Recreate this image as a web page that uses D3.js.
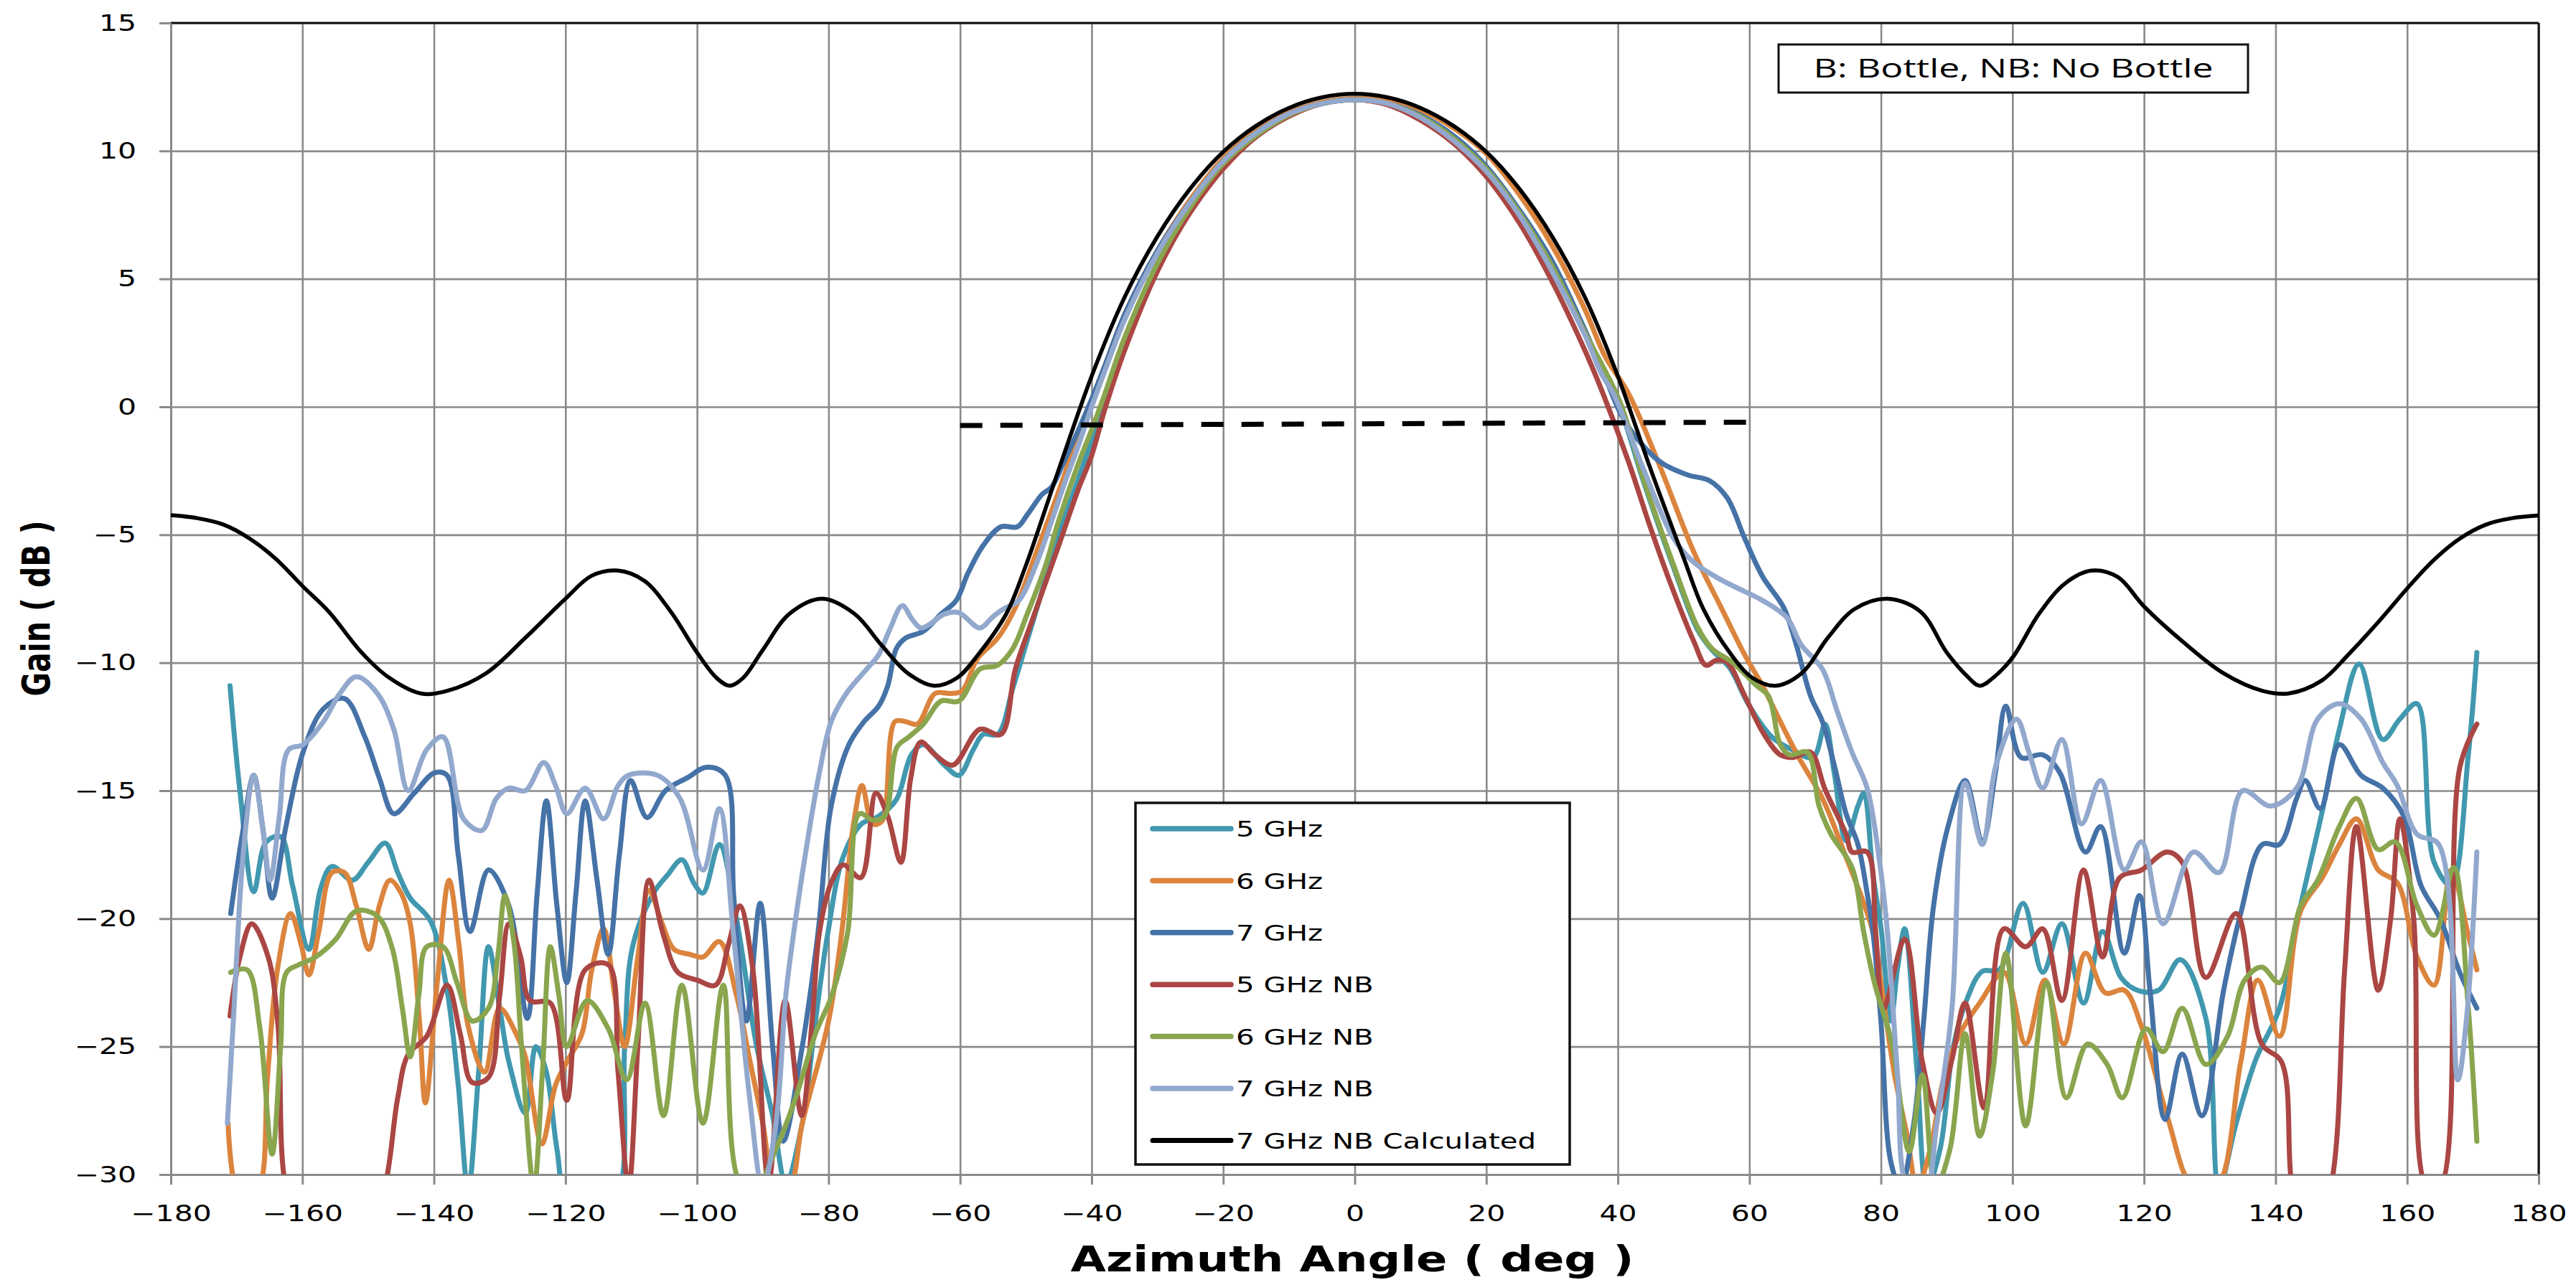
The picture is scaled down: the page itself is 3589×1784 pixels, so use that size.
<!DOCTYPE html>
<html><head><meta charset="utf-8">
<script src="https://cdn.jsdelivr.net/npm/d3@7"></script>
<style>html,body{margin:0;padding:0;background:#fff;} svg{display:block;}</style>
</head><body>
<svg id="chart" width="3589" height="1784"></svg>
<script>
// ---------------- DATA ----------------
const xTicks = [-180,-160,-140,-120,-100,-80,-60,-40,-20,0,20,40,60,80,100,120,140,160,180];
const yTicks = [-30,-25,-20,-15,-10,-5,0,5,10,15];
const seriesNames = ["5 GHz","6 GHz","7 GHz","5 GHz NB","6 GHz NB","7 GHz NB","7 GHz NB Calculated"];
const seriesColors = ["#4198AF","#DB843D","#4572A7","#AA4643","#89A54E","#92A8CD","#000000"];
const xTitle = "Azimuth Angle ( deg )";
const yTitle = "Gain ( dB )";
const noteText = "B: Bottle, NB: No Bottle";

// [angle (deg), gain (dB)]
const s5GHz = [[-171,-10.9],[-169.5,-15],[-167.4,-18.95],[-165.5,-17.0],[-163.3,-16.8],[-161.5,-18.7],[-159,-21.2],[-157.2,-18.8],[-155.5,-17.96],[-152.4,-18.5],[-150,-17.8],[-147.4,-17.05],[-145.5,-18.2],[-143.6,-19.2],[-140.5,-20.1],[-138,-22.8],[-136.3,-26.5],[-134.8,-30.6],[-133.2,-26],[-131.7,-21.1],[-130,-23.5],[-128.6,-25.6],[-126.1,-27.6],[-124.5,-25],[-122.9,-26],[-121.3,-29],[-119.8,-30.8],[-116,-31],[-112.3,-30.8],[-111,-25],[-109.8,-21.1],[-106.6,-19.0],[-104.5,-18.3],[-102.3,-17.7],[-100.5,-18.6],[-99.1,-19.0],[-96.6,-17.1],[-94,-20],[-91,-24.9],[-88.5,-27.7],[-86.5,-30.3],[-84,-28],[-82,-24],[-80.1,-20.55],[-77.8,-17.6],[-75,-16.3],[-72.4,-16.0],[-69.7,-15.35],[-67.4,-13.6],[-65.6,-13.2],[-62.4,-14.0],[-60.2,-14.4],[-58,-13.4],[-56.5,-12.8],[-54.3,-12.8],[-52,-11.0],[-50,-9.3],[-48,-7.6],[-45,-5.0],[-42,-2.8],[-40,-1.3],[-38,0.3],[-35,2.6],[-30,5.6],[-25,7.8],[-20,9.5],[-15,10.6],[-10,11.4],[-5,11.85],[0,12.0],[5,11.85],[10,11.35],[15,10.5],[20,9.3],[25,7.6],[30,5.5],[35,2.9],[38,1.3],[40.3,0.0],[44,-3.0],[48.5,-6.3],[52.1,-8.7],[54.3,-9.5],[57,-10.2],[59.8,-11.6],[63.4,-12.9],[66.5,-13.4],[69.7,-13.7],[71.5,-12.4],[72.9,-14.3],[74.7,-16.96],[76.5,-15.6],[77.4,-15.1],[78.8,-18.3],[80.1,-20.55],[81.5,-24],[82.5,-22],[83.6,-20.4],[85.5,-26],[87,-30.5],[89,-29],[91,-25],[93,-23.2],[95.4,-22.06],[98,-22.0],[101.6,-19.4],[104.6,-22.1],[107.5,-20.2],[110.8,-23.3],[113.7,-20.5],[116.5,-22.3],[119,-22.8],[122.2,-22.8],[125.5,-21.6],[129.4,-23.9],[131.4,-30.5],[134,-28],[137,-25.5],[140.6,-23.5],[143.8,-19.5],[147.1,-15.8],[149.7,-12.6],[152.7,-10.05],[156.3,-13.0],[158.9,-12.2],[161.5,-11.6],[164.1,-17.8],[166.7,-18.7],[169.3,-13.6],[170.6,-9.6]];

const s6GHz = [[-171.3,-28],[-170.1,-30.5],[-168.3,-31],[-166.5,-30.5],[-165.3,-26.2],[-163.8,-22],[-161.8,-19.8],[-160.2,-21],[-159,-22.2],[-157.5,-20.5],[-155.5,-18.2],[-153.6,-18.2],[-151.8,-19.5],[-149.9,-21.2],[-148.3,-19.5],[-146.7,-18.5],[-145,-19],[-143.6,-20.2],[-142.2,-24],[-141.3,-27.2],[-139.5,-22.5],[-137.7,-18.5],[-136.2,-21],[-134.8,-24.2],[-132.3,-26.0],[-130,-23.5],[-127.5,-24.5],[-126.1,-25.4],[-123.6,-28.8],[-121.5,-26.5],[-119.8,-25.6],[-117.5,-24.5],[-116,-22],[-114.2,-20.4],[-112.5,-23],[-111,-25.0],[-109,-21.5],[-107.3,-18.9],[-105.3,-20.2],[-103.5,-21.2],[-101,-21.4],[-99.1,-21.5],[-96.6,-20.9],[-94,-23],[-92,-25.5],[-90,-28],[-88,-30.5],[-86,-30.5],[-84,-28],[-80,-24],[-78,-20.55],[-76.2,-16.3],[-74.9,-14.8],[-73.3,-16.3],[-71.9,-16.2],[-69.9,-12.3],[-68.3,-12.3],[-66.5,-12.4],[-63.8,-11.2],[-61.5,-11.2],[-59.7,-11.1],[-57.4,-9.85],[-54.3,-9.04],[-51.6,-7.84],[-48,-5.4],[-45,-3.3],[-42,-1.1],[-40,0.2],[-38,1.6],[-35,3.6],[-30,6.1],[-25,8.1],[-20,9.7],[-15,10.8],[-10,11.5],[-5,11.9],[0,12.05],[5,11.95],[10,11.6],[15,10.9],[20,9.9],[25,8.3],[30,6.3],[35,3.8],[38,2.0],[41.7,0.48],[46.2,-2.2],[51.6,-5.7],[55.7,-7.84],[59.3,-9.7],[62.0,-10.9],[64.7,-12.3],[67.5,-13.7],[71.1,-15.3],[74.7,-17.6],[77.4,-19.4],[78.8,-20.55],[80,-22.5],[82,-26],[84,-28.5],[85.5,-30.5],[87.5,-29],[89.5,-26.3],[92,-24.5],[95,-23.3],[98.7,-22.1],[102,-24.9],[104.9,-22.4],[107.8,-24.9],[111.1,-21.35],[114.1,-22.9],[117,-22.8],[119.6,-24.2],[123.5,-27.7],[127.5,-30.5],[131,-30.5],[134.7,-25.6],[137.3,-22.4],[140.6,-24.6],[143.8,-19.7],[147.1,-18.4],[149.7,-17.1],[152.3,-16.1],[155.6,-18.1],[158.5,-18.6],[161.5,-21.5],[164.1,-22.6],[166.7,-18.1],[169.3,-20.65],[170.6,-22]];

const s7GHz = [[-170.9,-19.8],[-169,-16.5],[-167.4,-14.4],[-166,-16.5],[-164.6,-19.2],[-162.5,-16.4],[-159.9,-13.5],[-156.8,-11.8],[-153.6,-11.4],[-150.5,-12.9],[-148.3,-14.5],[-146.1,-15.9],[-143,-15.1],[-139.9,-14.3],[-138,-14.4],[-136.3,-17.5],[-134.5,-20.5],[-131.7,-18.1],[-128.6,-19.5],[-125.8,-23.9],[-124.3,-19],[-122.9,-15.4],[-121.3,-19.5],[-119.8,-22.5],[-118.4,-19],[-117,-15.4],[-115.2,-18.5],[-113.5,-21.4],[-111.8,-17.5],[-110.1,-14.6],[-107.6,-16.05],[-104.8,-15.0],[-101.5,-14.5],[-98.5,-14.08],[-95.7,-14.4],[-94.4,-19.2],[-92.5,-24],[-90.4,-19.4],[-88.5,-25],[-86.9,-28.7],[-84,-25],[-81.6,-20.55],[-79.6,-15.6],[-76.9,-13.2],[-74.6,-12.3],[-72.4,-11.7],[-71,-10.9],[-69.7,-9.45],[-68.3,-9.04],[-65.6,-8.77],[-62.9,-8.1],[-60.6,-7.57],[-58.8,-6.5],[-56.5,-5.42],[-53.8,-4.69],[-51.3,-4.69],[-49.8,-4.22],[-47.5,-3.41],[-46.1,-3.14],[-44.3,-2.2],[-42,-0.9],[-40,0.3],[-38,1.6],[-35,3.6],[-30,6.1],[-25,8.0],[-20,9.6],[-15,10.7],[-10,11.45],[-5,11.85],[0,12.0],[5,11.85],[10,11.4],[15,10.6],[20,9.4],[25,7.7],[30,5.7],[35,3.0],[38,1.2],[40.5,-0.3],[43,-1.27],[46.7,-2.2],[50.7,-2.67],[53.9,-2.88],[56.6,-3.55],[59.3,-5.15],[62,-6.63],[65.2,-7.84],[67,-9.18],[69.3,-11.3],[71.1,-12.3],[72.9,-14.0],[74.7,-15.9],[76.5,-17.1],[77.9,-19.0],[78.8,-20.55],[80,-24],[81.5,-29.5],[83,-30.5],[85,-28],[86.5,-24],[88,-19.5],[90.2,-16.4],[92.8,-14.6],[95.4,-17.0],[97.4,-14.3],[99,-11.7],[101.3,-13.7],[104.6,-13.6],[107.2,-14.3],[111.1,-17.4],[113.4,-16.4],[117,-21.35],[119.3,-19.1],[120.9,-22.8],[123.2,-27.85],[125.8,-25.3],[128.8,-27.7],[132.1,-22.8],[134.7,-19.8],[138,-17.1],[140.6,-17.1],[143.2,-15.3],[144.5,-14.6],[146.8,-15.7],[149.7,-13.2],[153,-14.4],[156.3,-14.9],[159.5,-16.0],[162.1,-18.7],[165,-20],[168,-22.1],[170.6,-23.5]];

const s5GHzNB = [[-171,-23.8],[-169.5,-21.5],[-167.7,-20.2],[-165.2,-21.5],[-163.7,-24.2],[-162.5,-30.5],[-160,-32],[-150,-32],[-147.5,-30.5],[-145.5,-27],[-143.9,-25.3],[-141.1,-24.6],[-138,-22.6],[-136,-24.5],[-134.2,-26.4],[-131.7,-26.2],[-130,-23],[-128.6,-20.2],[-126.8,-21.5],[-125.4,-23.2],[-122.3,-23.3],[-119.8,-27.1],[-117,-22.0],[-113.5,-21.8],[-112,-26],[-110.4,-30.5],[-109,-25],[-107.3,-18.5],[-105.1,-20.65],[-102.9,-22.1],[-100,-22.4],[-97.2,-22.6],[-95.2,-21],[-93.5,-19.5],[-91.5,-22],[-89.1,-30.3],[-86.6,-23.2],[-84.1,-27.7],[-82.5,-24],[-81.4,-20.55],[-79.6,-18.6],[-77.8,-17.9],[-75.1,-18.4],[-72.8,-15.1],[-71,-16],[-69,-17.8],[-67.5,-14.5],[-66,-13.1],[-63.8,-13.6],[-61.1,-14.0],[-57,-12.6],[-53.8,-12.8],[-51.6,-10.25],[-48.9,-8.24],[-45.2,-5.56],[-42,-3.2],[-40,-1.9],[-38,-0.1],[-35,2.2],[-30,5.3],[-25,7.6],[-20,9.3],[-15,10.55],[-10,11.35],[-5,11.85],[0,12.0],[5,11.8],[10,11.2],[15,10.3],[20,9.0],[25,7.2],[30,4.9],[35,2.2],[37.8,0.48],[41.7,-2.2],[44.8,-4.6],[48,-6.9],[51.6,-9.2],[53.4,-10.1],[55,-9.9],[56.6,-9.98],[59.3,-11.3],[62,-12.7],[64.7,-13.6],[66.6,-13.7],[69.3,-13.5],[71.5,-14.95],[74.7,-16.7],[75.6,-17.4],[77.9,-17.4],[79.2,-20.55],[80.4,-23.5],[83.6,-20.8],[86.3,-25.6],[88.5,-27.6],[90.8,-25.5],[92.8,-23.3],[95.7,-27.4],[98.7,-20.4],[102,-21.1],[104.6,-20.4],[107.5,-23.2],[110.8,-18.1],[113.7,-21.5],[116.3,-18.4],[119.6,-18.1],[123.5,-17.4],[125.8,-17.8],[129.4,-22.3],[134,-19.8],[137.9,-24.9],[140.9,-25.6],[142.5,-30.5],[145,-33],[148.4,-30.5],[150.5,-22],[152.3,-16.4],[155.6,-22.8],[157.5,-20],[158.9,-16.1],[161,-20],[163,-30.5],[165,-30.5],[168,-14.1],[170.6,-12.4]];

const s6GHzNB = [[-170.9,-22.1],[-168.4,-22.0],[-166.5,-24.2],[-164.6,-29.2],[-163.3,-25],[-162.4,-22.1],[-160.5,-21.8],[-158,-21.5],[-154.9,-20.8],[-151.8,-19.7],[-148.6,-19.9],[-146.4,-21.1],[-144.8,-23.5],[-143.6,-25.4],[-142.3,-23],[-141.1,-21.1],[-138.6,-21.1],[-136.5,-22.5],[-134.2,-24.0],[-131.7,-23.5],[-130.3,-21.5],[-129.2,-19.1],[-127.8,-21],[-126.7,-24.9],[-124.8,-30.5],[-123.5,-26],[-122.3,-21.1],[-121,-23],[-119.8,-25.0],[-116.7,-23.2],[-113.5,-24.3],[-110.7,-26.3],[-107.9,-23.3],[-105.1,-27.7],[-102.3,-22.6],[-99.1,-28.0],[-96,-22.6],[-93.5,-30.3],[-91,-30.5],[-88,-29],[-85,-27],[-82,-24.5],[-79.5,-23],[-77.1,-20.55],[-75.3,-15.9],[-73.3,-16.15],[-71.5,-16.0],[-69.6,-13.3],[-67.8,-12.9],[-65.6,-12.4],[-62.9,-11.5],[-60.2,-11.5],[-57,-10.25],[-54.3,-10.1],[-52,-9.45],[-49.8,-8.1],[-47,-6.2],[-45.2,-4.6],[-42,-2.2],[-40,-0.9],[-38,0.5],[-35,2.7],[-30,5.6],[-25,7.8],[-20,9.5],[-15,10.6],[-10,11.4],[-5,11.85],[0,12.0],[5,11.85],[10,11.35],[15,10.5],[20,9.3],[25,7.6],[30,5.5],[35,2.9],[40.3,0.2],[44,-2.9],[48.5,-6.2],[52.1,-8.6],[54.3,-9.45],[57.5,-10.0],[61.1,-10.9],[62.9,-11.3],[64.7,-13.2],[66.1,-13.6],[68.8,-13.5],[70.6,-15.6],[72.4,-16.7],[75.6,-18.0],[77.4,-20.55],[79,-22.5],[81.7,-24.9],[84.3,-29.1],[86.3,-26.1],[88.3,-30.5],[90.5,-29],[92.8,-24.5],[95,-28.5],[97,-26],[99,-21.35],[102,-28.1],[105.2,-22.5],[108.2,-27.0],[111.4,-24.9],[114.4,-25.7],[116.7,-27.0],[120.3,-24.3],[122.9,-25.2],[125.8,-23.5],[129.4,-25.7],[132.7,-24.6],[135.3,-22.4],[137.9,-21.9],[140.6,-22.5],[143.8,-19.5],[146.4,-18.5],[149.7,-16.4],[152.3,-15.3],[155.6,-17.3],[158.2,-17.0],[161.5,-19.5],[164.1,-20.65],[167.1,-18.0],[169.3,-23.5],[170.6,-28.7]];

const s7GHzNB = [[-171.4,-28],[-170.5,-24],[-169,-17.5],[-167.4,-14.4],[-166,-16.5],[-164.9,-18.5],[-163.5,-16],[-162.1,-13.4],[-159.9,-13.2],[-156.8,-12.3],[-154.3,-11.2],[-151.8,-10.55],[-148.6,-11.2],[-146.1,-12.6],[-143.9,-15.0],[-141.1,-13.4],[-138.6,-12.9],[-135.5,-16.1],[-132.7,-16.55],[-130.5,-15.3],[-128.6,-14.9],[-126.1,-15.0],[-123.3,-13.9],[-121.5,-14.8],[-119.8,-15.9],[-117,-14.9],[-114.2,-16.1],[-112,-14.8],[-110.4,-14.4],[-106,-14.4],[-102.6,-15.3],[-99.1,-18.1],[-96.6,-15.7],[-94.5,-20.5],[-92,-27],[-90,-30.5],[-88,-28],[-86.5,-23],[-85.3,-20.55],[-83.2,-16.96],[-81.4,-14.3],[-79.6,-12.3],[-77.3,-11.2],[-74.2,-10.25],[-72.4,-9.7],[-70.6,-8.64],[-68.8,-7.77],[-67.3,-8.3],[-66,-8.64],[-64.7,-8.51],[-62.4,-8.1],[-60.2,-8.04],[-57,-8.64],[-55,-8.2],[-53.4,-7.9],[-51.1,-7.57],[-48.5,-6.2],[-46,-4.4],[-44,-2.9],[-42,-1.5],[-40,0.0],[-38,1.4],[-35,3.4],[-30,6.0],[-25,8.0],[-20,9.6],[-15,10.7],[-10,11.45],[-5,11.85],[0,12.0],[5,11.85],[10,11.3],[15,10.4],[20,9.2],[25,7.5],[30,5.3],[35,2.8],[37.5,1.3],[39.4,0.48],[44,-2.5],[48.5,-5.15],[51.6,-6.09],[55.7,-6.76],[58.9,-7.17],[62,-7.57],[65.7,-8.24],[67.9,-9.31],[71.1,-10.25],[73.3,-11.86],[75.6,-13.5],[77.9,-14.9],[79.7,-17.6],[81,-20.55],[82.5,-26],[84,-30.5],[86.5,-31],[88.5,-28],[90.8,-23.5],[92.8,-14.7],[95.4,-17.1],[97.5,-14],[100.6,-12.2],[102.5,-13.5],[104.6,-14.9],[107.5,-13.0],[110.5,-16.3],[113.4,-14.6],[117,-18.1],[119.6,-17.0],[122.9,-20.2],[127.5,-17.4],[131.4,-18.2],[135,-15.0],[139.2,-15.6],[143.2,-14.9],[146.4,-12.2],[149.7,-11.6],[153,-12.2],[156.3,-13.9],[158.5,-14.8],[161.5,-16.7],[164.8,-17.1],[167.7,-26.3],[169,-24],[170.6,-17.4]];

const calcAngles = [-180,-176,-172,-168,-164,-160,-156,-151,-147,-142,-138,-132,-126,-120,-116,-112,-108,-104,-100,-97,-95,-93,-90,-86,-81,-76,-72,-68,-64,-60.5,-57,-53,-50,-45,-40,-35,-30,-25,-20,-15,-10,-5,0,5,10,15,20,25,30,35,40,45,50,53,57,60.5,64,68,72,76,81,86,90,93,95,97,100,104,108,112,116,120,126,132,138,142,147,151,156,160,164,168,172,176,180];
const calcGain = [-4.23,-4.35,-4.6,-5.15,-5.95,-7.0,-8.0,-9.6,-10.55,-11.2,-11.1,-10.4,-9.0,-7.5,-6.6,-6.4,-6.8,-8.0,-9.6,-10.6,-10.9,-10.6,-9.5,-8.1,-7.5,-8.1,-9.3,-10.4,-10.9,-10.6,-9.6,-8.1,-6.2,-2.45,1.2,4.28,6.66,8.53,9.96,10.98,11.68,12.09,12.23,12.09,11.68,10.98,9.96,8.53,6.66,4.28,1.2,-2.45,-5.9,-7.9,-9.6,-10.6,-10.9,-10.4,-9.0,-7.9,-7.5,-8.0,-9.6,-10.5,-10.9,-10.6,-9.8,-8.1,-6.9,-6.4,-6.65,-7.8,-9.2,-10.4,-11.1,-11.2,-10.7,-9.7,-8.3,-7.1,-6.0,-5.15,-4.6,-4.35,-4.25];

const dashedRef = [[-60,-0.73],[60,-0.6]];

// ---------------- CHART ----------------
const svg = d3.select("#chart");
const L = 238, R = 3537, T = 32, B = 1637;
const x = d3.scaleLinear().domain([-180,180]).range([L,R]);
const y = d3.scaleLinear().domain([-30,15]).range([B,T]);
const SX = 1.3; // horizontal text stretch
const gridColor = "#8a8a8a";

svg.append("rect").attr("width",3589).attr("height",1784).attr("fill","#fff");

// grid
const grid = svg.append("g");
grid.append("g").attr("transform",`translate(0,${B})`)
  .call(d3.axisBottom(x).tickValues(xTicks).tickSize(-(B-T)).tickFormat(""))
  .call(g=>g.select(".domain").remove())
  .call(g=>g.selectAll("line").attr("stroke",gridColor).attr("stroke-width",2.6));
grid.append("g").attr("transform",`translate(${L},0)`)
  .call(d3.axisLeft(y).tickValues(yTicks).tickSize(-(R-L)).tickFormat(""))
  .call(g=>g.select(".domain").remove())
  .call(g=>g.selectAll("line").attr("stroke",gridColor).attr("stroke-width",2.6));

// top and right border
svg.append("line").attr("x1",L).attr("x2",R).attr("y1",T).attr("y2",T).attr("stroke","#111").attr("stroke-width",3);
svg.append("line").attr("x1",R).attr("x2",R).attr("y1",T).attr("y2",B).attr("stroke","#111").attr("stroke-width",3);

// axes
const xAxis = svg.append("g").attr("transform",`translate(0,${B})`)
  .call(d3.axisBottom(x).tickValues(xTicks).tickSize(14).tickSizeOuter(0).tickPadding(29));
const yAxis = svg.append("g").attr("transform",`translate(${L},0)`)
  .call(d3.axisLeft(y).tickValues(yTicks).tickSize(16).tickSizeOuter(0));
[xAxis,yAxis].forEach(a=>{
  a.select(".domain").attr("stroke",gridColor).attr("stroke-width",3);
  a.selectAll(".tick line").attr("stroke",gridColor).attr("stroke-width",3);
  a.selectAll("text").attr("fill","#000").style("font-family","'DejaVu Sans', Verdana, sans-serif").style("font-size","31.5px");
});
xAxis.selectAll("text").attr("transform",`scale(${SX},1)`);
yAxis.selectAll("text").attr("x",-48/SX).attr("transform",`scale(${SX},1)`);

// clip
svg.append("clipPath").attr("id","plotclip").append("rect")
  .attr("x",L).attr("y",T).attr("width",R-L).attr("height",B-T);

const line = d3.line().x(d=>x(d[0])).y(d=>y(d[1])).curve(d3.curveCatmullRom.alpha(0.5));
const plot = svg.append("g").attr("clip-path","url(#plotclip)");
const measured = [s5GHz,s6GHz,s7GHz,s5GHzNB,s6GHzNB,s7GHzNB];
measured.forEach((s,i)=>{
  plot.append("path").datum(s).attr("d",line)
    .attr("fill","none").attr("stroke",seriesColors[i]).attr("stroke-width",7)
    .attr("stroke-linejoin","round").attr("stroke-linecap","round");
});
const calc = calcAngles.map((a,i)=>[a,calcGain[i]]);
plot.append("path").datum(calc).attr("d",line)
  .attr("fill","none").attr("stroke","#000").attr("stroke-width",5.5).attr("stroke-linejoin","round");

// dashed reference line
svg.append("path").datum(dashedRef).attr("d",d3.line().x(d=>x(d[0])).y(d=>y(d[1])))
  .attr("fill","none").attr("stroke","#000").attr("stroke-width",7).attr("stroke-dasharray","31,25");

// note box
svg.append("rect").attr("x",2478).attr("y",62).attr("width",654).attr("height",67)
  .attr("fill","#fff").attr("stroke","#111").attr("stroke-width",3);
svg.append("text").attr("x",2805).attr("y",108).attr("text-anchor","middle")
  .attr("textLength",557).attr("lengthAdjust","spacingAndGlyphs")
  .style("font-family","'Open Sans', 'Liberation Sans', sans-serif").style("font-size","37px").attr("fill","#000")
  .text(noteText);

// legend
const leg = svg.append("g");
leg.append("rect").attr("x",1582).attr("y",1119).attr("width",605).attr("height",504)
  .attr("fill","#fff").attr("stroke","#111").attr("stroke-width",3.5);
seriesNames.forEach((n,i)=>{
  const cy = 1155 + i*72.4;
  leg.append("line").attr("x1",1606).attr("x2",1715).attr("y1",cy).attr("y2",cy)
    .attr("stroke",seriesColors[i]).attr("stroke-width",i===6?7:7.5).attr("stroke-linecap","round");
  leg.append("text").attr("transform",`translate(1722,${cy}) scale(${SX},1)`).attr("dy","0.36em")
    .style("font-family","'DejaVu Sans', Verdana, sans-serif").style("font-size","31px").attr("fill","#000")
    .text(n);
});

// axis titles
svg.append("text").attr("x",1884).attr("y",1772).attr("text-anchor","middle")
  .attr("textLength",785).attr("lengthAdjust","spacingAndGlyphs")
  .style("font-family","'DejaVu Sans', Verdana, sans-serif").style("font-weight","bold").style("font-size","50px")
  .attr("fill","#000").text(xTitle);
svg.append("text").attr("transform",`translate(50,848) rotate(-90) scale(1,1.25)`).attr("text-anchor","middle").attr("dy","0.36em")
  .attr("textLength",245).attr("lengthAdjust","spacingAndGlyphs")
  .style("font-family","'DejaVu Sans', Verdana, sans-serif").style("font-weight","bold").style("font-size","42px")
  .attr("fill","#000").text(yTitle);
</script>
</body></html>
